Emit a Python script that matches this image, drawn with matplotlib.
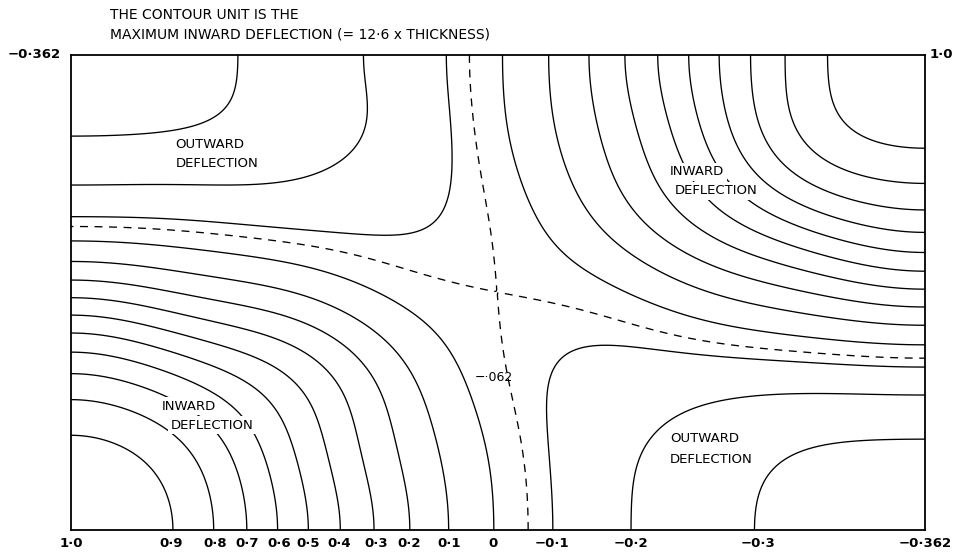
import numpy as np
import matplotlib.pyplot as plt

# Panel is 1.798 widths long; x runs along the panel, y across it (both in panel widths)
W = 1.798

# contour levels (contour unit = max inward deflection)
solid_levels = [-0.3, -0.2, -0.1, 0.0, 0.1, 0.2, 0.3, 0.4, 0.5, 0.6, 0.7, 0.8, 0.9]
dashed_level = -0.062

# level crossings read along the four edges
bottom_levels = [1.0, 0.9, 0.8, 0.7, 0.6, 0.5, 0.4, 0.3, 0.2, 0.1, 0.0, -0.062, -0.1, -0.2, -0.3, -0.362]
bottom_x = [0.0, 0.211, 0.303, 0.371, 0.438, 0.499, 0.564, 0.642, 0.712, 0.796, 0.888, 0.966,
            1.013, 1.179, 1.446, 1.798]
left_levels = bottom_levels
left_y = [0.0, 0.204, 0.272, 0.328, 0.373, 0.417, 0.455, 0.488, 0.528, 0.564, 0.604, 0.636,
          0.669, 0.726, 0.823, 1.0]
top_levels = [-0.362, -0.3, -0.2, -0.1, -0.062, 0.0, 0.1, 0.2, 0.3, 0.4, 0.5, 0.6, 0.7, 0.8, 0.9, 1.0]
top_x = [0.0, 0.349, 0.621, 0.789, 0.838, 0.909, 1.006, 1.091, 1.164, 1.236, 1.303, 1.362,
         1.432, 1.501, 1.594, 1.798]
right_levels = top_levels
right_y = [0.0, 0.192, 0.286, 0.337, 0.364, 0.392, 0.432, 0.469, 0.507, 0.541, 0.583, 0.629,
           0.672, 0.731, 0.798, 1.0]

# points: (level, x, y)
inner_pts = [
    (-0.3, 0.131, 0.832), (-0.3, 0.272, 0.848), (-0.3, 0.307, 0.869), (-0.3, 0.335, 0.905), (-0.3, 0.345, 0.954),
    (-0.2, 0.272, 0.730), (-0.2, 0.482, 0.743), (-0.2, 0.552, 0.758), (-0.2, 0.594, 0.800), (-0.2, 0.615, 0.869),
    (-0.2, 0.621, 0.941),
    (-0.1, 0.272, 0.653), (-0.1, 0.552, 0.632), (-0.1, 0.693, 0.621), (-0.1, 0.756, 0.632), (-0.1, 0.792, 0.680),
    (-0.1, 0.802, 0.764), (-0.1, 0.794, 0.905),
    (-0.062, 0.202, 0.632), (-0.062, 0.482, 0.600), (-0.062, 0.693, 0.558), (-0.062, 1.114, 0.446),
    (-0.062, 1.324, 0.400), (-0.062, 1.493, 0.383),
    (-0.062, 0.840, 0.975), (-0.062, 0.846, 0.836), (-0.062, 0.853, 0.800), (-0.062, 0.876, 0.659),
    (-0.062, 0.924, 0.379), (-0.062, 0.952, 0.189),
    (0.0, 0.272, 0.585), (0.0, 0.377, 0.575), (0.0, 0.587, 0.520), (0.0, 0.693, 0.474), (0.0, 0.762, 0.415),
    (0.0, 0.813, 0.352), (0.0, 0.855, 0.259), (0.0, 0.867, 0.189),
    (0.0, 0.924, 0.859), (0.0, 0.973, 0.684), (0.0, 1.044, 0.579), (0.0, 1.135, 0.509), (0.0, 1.219, 0.478),
    (0.1, 0.377, 0.522), (0.1, 0.552, 0.469), (0.1, 0.657, 0.400), (0.1, 0.714, 0.331), (0.1, 0.749, 0.246),
    (0.1, 0.766, 0.189),
    (0.1, 1.015, 0.859), (0.1, 1.057, 0.720), (0.1, 1.135, 0.615), (0.1, 1.255, 0.543), (0.1, 1.394, 0.488),
    (0.2, 0.377, 0.474), (0.2, 0.518, 0.427), (0.2, 0.608, 0.364), (0.2, 0.657, 0.288), (0.2, 0.682, 0.189),
    (0.2, 1.107, 0.859), (0.2, 1.162, 0.705), (0.2, 1.240, 0.615), (0.2, 1.360, 0.552), (0.2, 1.535, 0.501),
    (0.3, 0.377, 0.421), (0.3, 0.482, 0.373), (0.3, 0.560, 0.309), (0.3, 0.608, 0.189),
    (0.3, 1.183, 0.859), (0.3, 1.234, 0.733), (0.3, 1.324, 0.636), (0.3, 1.465, 0.564), (0.3, 1.676, 0.516),
    (0.4, 0.377, 0.368), (0.4, 0.461, 0.316), (0.4, 0.509, 0.259), (0.4, 0.528, 0.189),
    (0.4, 1.261, 0.859), (0.4, 1.286, 0.785), (0.4, 1.345, 0.691), (0.4, 1.465, 0.621), (0.4, 1.676, 0.564),
    (0.5, 0.187, 0.379), (0.5, 0.377, 0.301), (0.5, 0.434, 0.259), (0.5, 0.461, 0.189),
    (0.5, 1.324, 0.859), (0.5, 1.352, 0.783), (0.5, 1.434, 0.695), (0.5, 1.535, 0.642), (0.5, 1.709, 0.594),
    (0.6, 0.187, 0.337), (0.6, 0.349, 0.257), (0.6, 0.392, 0.194), (0.6, 0.425, 0.084),
    (0.6, 1.381, 0.859), (0.6, 1.429, 0.754), (0.6, 1.535, 0.678), (0.6, 1.676, 0.636),
    (0.7, 0.183, 0.293), (0.7, 0.309, 0.194), (0.7, 0.356, 0.084),
    (0.7, 1.451, 0.859), (0.7, 1.507, 0.768), (0.7, 1.604, 0.712), (0.7, 1.709, 0.680),
    (0.8, 0.118, 0.253), (0.8, 0.223, 0.196), (0.8, 0.286, 0.105),
    (0.8, 1.514, 0.859), (0.8, 1.571, 0.789), (0.8, 1.676, 0.747),
    (0.9, 0.118, 0.168), (0.9, 0.187, 0.105),
    (0.9, 1.613, 0.895), (0.9, 1.661, 0.838), (0.9, 1.745, 0.806),
    (-0.1, 0.998, 0.309), (-0.1, 1.004, 0.164), (-0.1, 1.036, 0.373), (-0.1, 1.086, 0.385),
    (-0.1, 1.324, 0.373), (-0.1, 1.423, 0.356),
    (-0.2, 1.179, 0.044), (-0.2, 1.225, 0.198), (-0.2, 1.297, 0.251), (-0.2, 1.423, 0.278),
    (-0.3, 1.478, 0.141), (-0.3, 1.562, 0.173),
]
saddle = (-0.062, 0.897, 0.501)

tick_labels = ['1·0', '0·9', '0·8', '0·7', '0·6', '0·5', '0·4', '0·3', '0·2', '0·1', '0',
               '', '−0·1', '−0·2', '−0·3', '−0·362']

# ---- smooth deflection surface fitted to the readings (cosine series, slope-free edges)
NX, NY = 8, 6


def basis(x, y, dx=False, dy=False):
    x = np.asarray(x, float).ravel()
    y = np.asarray(y, float).ravel()
    cols = []
    for i in range(NX + 1):
        kx = i * np.pi / W
        fx = -kx * np.sin(kx * x) if dx else np.cos(kx * x)
        for j in range(NY + 1):
            ky = j * np.pi
            fy = -ky * np.sin(ky * y) if dy else np.cos(ky * y)
            cols.append(fx * fy)
    return np.column_stack(cols)


px, py, pz = [], [], []
for lv, xv in zip(bottom_levels, bottom_x):
    px.append(xv); py.append(0.0); pz.append(lv)
for lv, xv in zip(top_levels, top_x):
    px.append(xv); py.append(1.0); pz.append(lv)
for lv, yv in zip(left_levels, left_y):
    px.append(0.0); py.append(yv); pz.append(lv)
for lv, yv in zip(right_levels, right_y):
    px.append(W); py.append(yv); pz.append(lv)
for lv, xv, yv in inner_pts:
    px.append(xv); py.append(yv); pz.append(lv)

A = basis(px, py)
b = np.array(pz)
# saddle point: value and zero slope, heavily weighted
sw = 20.0
A = np.vstack([A, sw * basis([saddle[1]], [saddle[2]]),
               sw * basis([saddle[1]], [saddle[2]], dx=True),
               sw * basis([saddle[1]], [saddle[2]], dy=True)])
b = np.concatenate([b, [sw * saddle[0], 0.0, 0.0]])
# smoothness penalty
pen = np.array([((i / W) ** 2 + j ** 2) ** 2 for i in range(NX + 1) for j in range(NY + 1)])
A = np.vstack([A, np.diag(np.sqrt(4e-4 * pen))])
b = np.concatenate([b, np.zeros(len(pen))])
coef, *_ = np.linalg.lstsq(A, b, rcond=None)

xs = np.linspace(0, W, 600)
ys = np.linspace(0, 1, 340)
X, Y = np.meshgrid(xs, ys)
Z = (basis(X, Y) @ coef).reshape(X.shape)

fig = plt.figure(figsize=(9.63, 5.56), dpi=100)
ax = fig.add_axes([71 / 963, 1 - 530 / 556, 854 / 963, 475 / 556])

ax.contour(X, Y, Z, levels=solid_levels, colors='black', linewidths=0.95,
           negative_linestyles='solid')
ax.contour(X, Y, Z, levels=[dashed_level], colors='black', linewidths=0.95,
           linestyles=[(0, (6, 5))])

ax.set_xlim(0, W)
ax.set_ylim(0, 1)
ax.set_yticks([])
tick_pos = [xv for xv, lab in zip(bottom_x, tick_labels) if lab]
ax.set_xticks(tick_pos, [lab for lab in tick_labels if lab])
ax.tick_params(axis='x', length=0, pad=5, labelsize=9.5)
for lab in ax.get_xticklabels():
    lab.set_fontweight('bold')
for s in ax.spines.values():
    s.set_linewidth(1.3)

box = dict(facecolor='white', edgecolor='none', pad=2)
txt = dict(fontsize=9.5, zorder=5, va='center', ha='left', bbox=box)
ax.text(0.219, 0.811, 'OUTWARD', **txt)
ax.text(0.221, 0.771, 'DEFLECTION', **txt)
ax.text(1.261, 0.754, 'INWARD', **txt)
ax.text(1.272, 0.714, 'DEFLECTION', **txt)
ax.text(0.192, 0.261, 'INWARD', **txt)
ax.text(0.211, 0.221, 'DEFLECTION', **txt)
ax.text(1.261, 0.192, 'OUTWARD', **txt)
ax.text(1.261, 0.149, 'DEFLECTION', **txt)
ax.text(0.93, 0.32, '−·062', fontsize=9, ha='right', va='center', zorder=5)

ax.text(-0.012, 1.0, '−0·362', fontsize=9.5, fontweight='bold', ha='right', va='center',
        transform=ax.transAxes)
ax.text(1.005, 1.0, '1·0', fontsize=9.5, fontweight='bold', ha='left', va='center',
        transform=ax.transAxes)

fig.text(110 / 963, 1 - 15 / 556, 'THE CONTOUR UNIT IS THE', fontsize=10, va='center')
fig.text(110 / 963, 1 - 35 / 556, 'MAXIMUM INWARD DEFLECTION (= 12·6 x THICKNESS)', fontsize=10, va='center')

fig.savefig('out.png', dpi=100)
